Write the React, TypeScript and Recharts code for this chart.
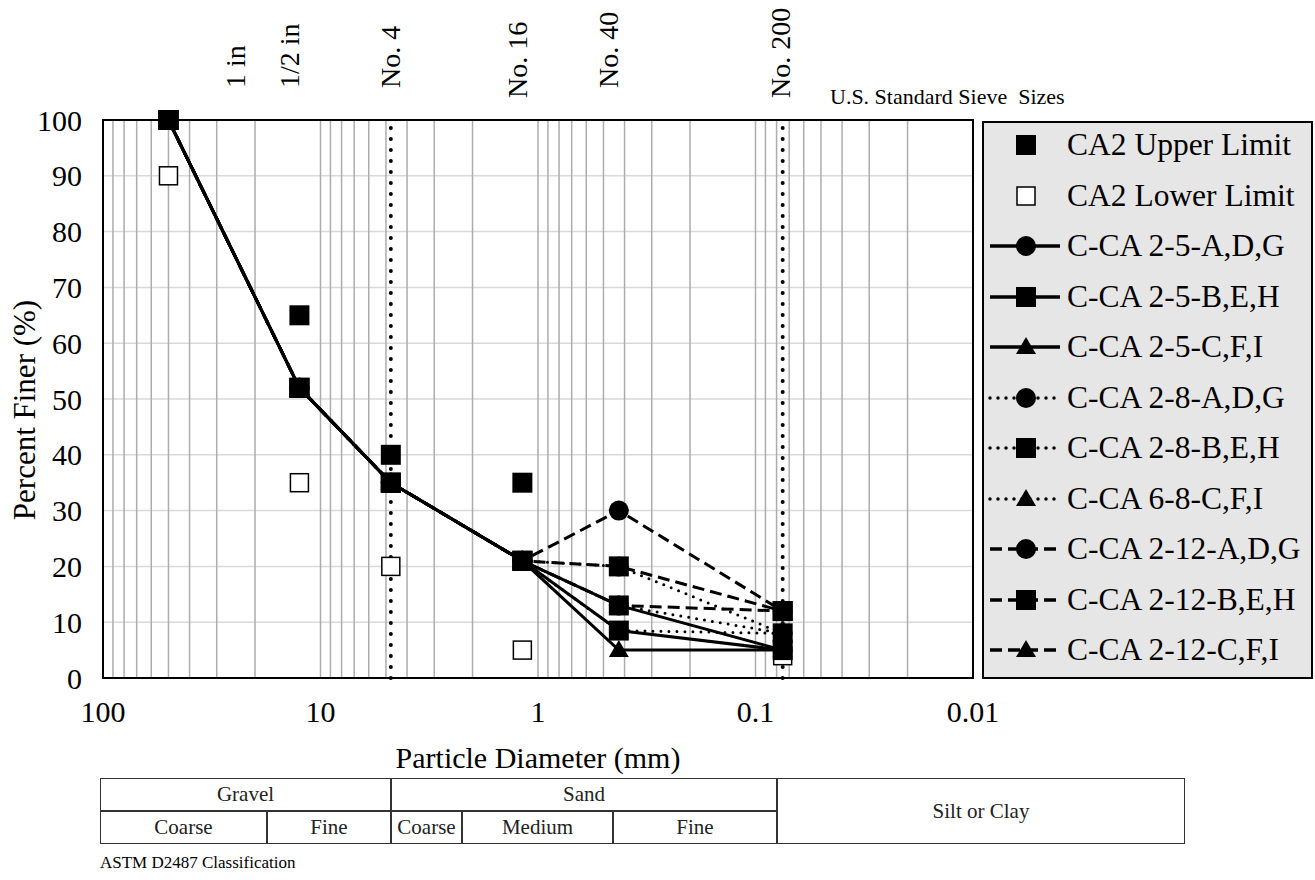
import React from 'react';
import { LineChart, Line, XAxis, YAxis, CartesianGrid, ReferenceLine, ReferenceArea } from 'recharts';

// sieve openings in mm
const sieveSizes = [50, 12.5, 4.75, 1.18, 0.425, 0.075];

// CA2 band (no No. 40 requirement)
const upperLimit = [100, 65, 40, 35, null, 12];
const lowerLimit = [90, 35, 20, 5, null, 4];

// test gradations, percent finer
const ca25A = [100, 52, 35, 21, 13, 5];
const ca25B = [100, 52, 35, 21, 8.5, 5];
const ca25C = [100, 52, 35, 21, 5, 5];
const ca28A = [100, 52, 35, 21, 20, 8];
const ca28B = [100, 52, 35, 21, 13, 8];
const ca68C = [100, 52, 35, 21, 8.5, 8];
const ca212A = [100, 52, 35, 21, 30, 12];
const ca212B = [100, 52, 35, 21, 20, 12];
const ca212C = [100, 52, 35, 21, 13, 12];

const xTicks = [100, 10, 1, 0.1, 0.01];
const yTicks = [0, 10, 20, 30, 40, 50, 60, 70, 80, 90, 100];
const logGrid = [
  90, 80, 70, 60, 50, 40, 30, 20, 10,
  9, 8, 7, 6, 5, 4, 3, 2, 1,
  0.9, 0.8, 0.7, 0.6, 0.5, 0.4, 0.3, 0.2, 0.1,
  0.09, 0.08, 0.07, 0.06, 0.05, 0.04, 0.03, 0.02,
];

const sieveNames = ['1 in', '1/2 in', 'No. 4', 'No. 16', 'No. 40', 'No. 200'];
const sieveLabelSizes = [25, 12.5, 4.75, 1.18, 0.425, 0.075];
const dottedSieves = [4.75, 0.075];

const FONT = "'Liberation Serif', 'Times New Roman', serif";

type Marker = 'circle' | 'square' | 'triangle' | 'hollow';
type Dash = 'none' | 'solid' | 'dot' | 'dash';

const series: { name: string; values: (number | null)[]; dash: Dash; marker: Marker }[] = [
  { name: 'CA2 Upper Limit', values: upperLimit, dash: 'none', marker: 'square' },
  { name: 'CA2 Lower Limit', values: lowerLimit, dash: 'none', marker: 'hollow' },
  { name: 'C-CA 2-5-A,D,G', values: ca25A, dash: 'solid', marker: 'circle' },
  { name: 'C-CA 2-5-B,E,H', values: ca25B, dash: 'solid', marker: 'square' },
  { name: 'C-CA 2-5-C,F,I', values: ca25C, dash: 'solid', marker: 'triangle' },
  { name: 'C-CA 2-8-A,D,G', values: ca28A, dash: 'dot', marker: 'circle' },
  { name: 'C-CA 2-8-B,E,H', values: ca28B, dash: 'dot', marker: 'square' },
  { name: 'C-CA 6-8-C,F,I', values: ca68C, dash: 'dot', marker: 'triangle' },
  { name: 'C-CA 2-12-A,D,G', values: ca212A, dash: 'dash', marker: 'circle' },
  { name: 'C-CA 2-12-B,E,H', values: ca212B, dash: 'dash', marker: 'square' },
  { name: 'C-CA 2-12-C,F,I', values: ca212C, dash: 'dash', marker: 'triangle' },
];

const dashStyle = (d: Dash) => {
  if (d === 'dot') return { strokeDasharray: '0 8', strokeLinecap: 'round' as const };
  if (d === 'dash') return { strokeDasharray: '12 6', strokeLinecap: 'butt' as const };
  return {};
};

function drawMarker(shape: Marker, cx: number, cy: number, key: string) {
  if (shape === 'square') return <rect key={key} x={cx - 10} y={cy - 10} width={20} height={20} fill="#000" />;
  if (shape === 'hollow')
    return <rect key={key} x={cx - 9} y={cy - 9} width={18} height={18} fill="#fff" stroke="#000" strokeWidth={1.5} />;
  if (shape === 'circle') return <circle key={key} cx={cx} cy={cy} r={10} fill="#000" />;
  return <polygon key={key} points={`${cx},${cy - 10} ${cx + 10},${cy + 7} ${cx - 10},${cy + 7}`} fill="#000" />;
}

const toPoints = (values: (number | null)[]) =>
  sieveSizes.map((d, i) => ({ d, p: values[i] })).filter((pt) => pt.p != null);

// circles and triangles underneath, squares on top
const drawOrder = [...series].sort((a, b) => {
  const rank = (s: typeof a) => (s.marker === 'square' ? 1 : 0);
  return rank(a) - rank(b);
});

// small hand nudges for the rotated sieve captions
const labelNudge: Record<string, number> = { '1 in': 2, '1/2 in': -9, 'No. 4': 0, 'No. 16': -4, 'No. 40': -10, 'No. 200': -2 };
const labelBottom: Record<string, number> = { '1 in': 88, '1/2 in': 88, 'No. 4': 88, 'No. 16': 98, 'No. 40': 88, 'No. 200': 98 };

const tableCells = [
  { text: 'Gravel', x1: 100, x2: 391, y1: 778, y2: 811 },
  { text: 'Sand', x1: 391, x2: 777, y1: 778, y2: 811 },
  { text: 'Silt or Clay', x1: 777, x2: 1185, y1: 778, y2: 844 },
  { text: 'Coarse', x1: 100, x2: 267, y1: 811, y2: 844 },
  { text: 'Fine', x1: 267, x2: 391, y1: 811, y2: 844 },
  { text: 'Coarse', x1: 391, x2: 462, y1: 811, y2: 844 },
  { text: 'Medium', x1: 462, x2: 613, y1: 811, y2: 844 },
  { text: 'Fine', x1: 613, x2: 777, y1: 811, y2: 844 },
];

export default function App() {
  return (
    <div style={{ position: 'absolute', left: 0, top: 0, width: 1315, height: 880, background: '#fff', fontFamily: FONT }}>
      <LineChart width={1315} height={880} margin={{ top: 120, right: 342, bottom: 162, left: 0 }}>
        <CartesianGrid vertical={false} stroke="#d9d9d9" strokeWidth={1.5} />
        <CartesianGrid horizontal={false} verticalValues={logGrid} stroke="#adadad" strokeWidth={1.5} />
        <XAxis
          dataKey="d"
          type="number"
          scale="log"
          domain={[0.01, 100]}
          reversed
          allowDataOverflow
          ticks={xTicks}
          interval={0}
          height={40}
          tickSize={0}
          tickMargin={23}
          axisLine={false}
          tickLine={false}
          tickFormatter={(v: number) => String(v)}
          tick={{ fill: '#000', fontSize: 30, fontFamily: FONT }}
        />
        <YAxis
          type="number"
          domain={[0, 100]}
          ticks={yTicks}
          interval={0}
          width={103}
          tickSize={0}
          tickMargin={21}
          axisLine={false}
          tickLine={false}
          tick={{ fill: '#000', fontSize: 30, fontFamily: FONT }}
        />
        <ReferenceArea x1={0.01} x2={100} y1={0} y2={100} fill="none" stroke="#000" strokeWidth={2} ifOverflow="visible" />
        {sieveNames.map((name, i) => (
          <ReferenceLine
            key={name}
            x={sieveLabelSizes[i]}
            strokeOpacity={0}
            label={(props: any) => {
              const x = props.viewBox.x + 9 + labelNudge[name];
              const y = labelBottom[name];
              return (
                <text x={x} y={y} transform={`rotate(-90 ${x} ${y})`} fontSize={28} fontFamily={FONT} fill="#000">
                  {name}
                </text>
              );
            }}
          />
        ))}
        {drawOrder.map((s) => (
          <Line
            key={s.name}
            data={toPoints(s.values)}
            dataKey="p"
            name={s.name}
            stroke={s.dash === 'none' ? 'none' : '#000'}
            strokeWidth={3}
            {...dashStyle(s.dash)}
            dot={(props: any) => drawMarker(s.marker, props.cx, props.cy, `${s.name}-${props.index}`)}
            activeDot={false}
            isAnimationActive={false}
            legendType="none"
          />
        ))}
        {dottedSieves.map((d) => (
          <ReferenceLine key={d} x={d} stroke="#000" strokeWidth={4} strokeDasharray="0 11" strokeLinecap="round" />
        ))}
      </LineChart>

      <div style={{ position: 'absolute', left: 830, top: 84, fontSize: 22, whiteSpace: 'pre', lineHeight: '26px' }}>
        U.S. Standard Sieve  Sizes
      </div>
      <div
        style={{
          position: 'absolute',
          left: 25,
          top: 410,
          transform: 'translate(-50%, -50%) rotate(-90deg)',
          fontSize: 31,
          whiteSpace: 'nowrap',
        }}
      >
        Percent Finer (%)
      </div>
      <div style={{ position: 'absolute', left: 538, top: 758, transform: 'translate(-50%, -50%)', fontSize: 30, whiteSpace: 'nowrap' }}>
        Particle Diameter (mm)
      </div>

      <div style={{ position: 'absolute', left: 982, top: 121, width: 327, height: 554, background: '#e6e6e6', border: '2px solid #000' }}>
        {series.map((s, i) => (
          <div key={s.name} style={{ position: 'absolute', left: 0, top: 2 + 50.5 * i, height: 40, display: 'flex', alignItems: 'center' }}>
            <svg width={83} height={40}>
              {s.dash !== 'none' && <line x1={6} y1={20} x2={76} y2={20} stroke="#000" strokeWidth={3.5} {...dashStyle(s.dash)} />}
              {drawMarker(s.marker, 42, 20, 'm')}
            </svg>
            <span style={{ fontSize: 31.5, whiteSpace: 'nowrap' }}>{s.name}</span>
          </div>
        ))}
      </div>

      {tableCells.map((c, i) => (
        <div
          key={i}
          style={{
            position: 'absolute',
            left: c.x1,
            top: c.y1,
            width: c.x2 - c.x1,
            height: c.y2 - c.y1,
            boxSizing: 'border-box',
            border: '1.5px solid #333',
            display: 'flex',
            alignItems: 'center',
            justifyContent: 'center',
            fontSize: 21,
            color: '#222',
          }}
        >
          {c.text}
        </div>
      ))}
      <div style={{ position: 'absolute', left: 100, top: 853, fontSize: 17, lineHeight: '20px' }}>ASTM D2487 Classification</div>
    </div>
  );
}
